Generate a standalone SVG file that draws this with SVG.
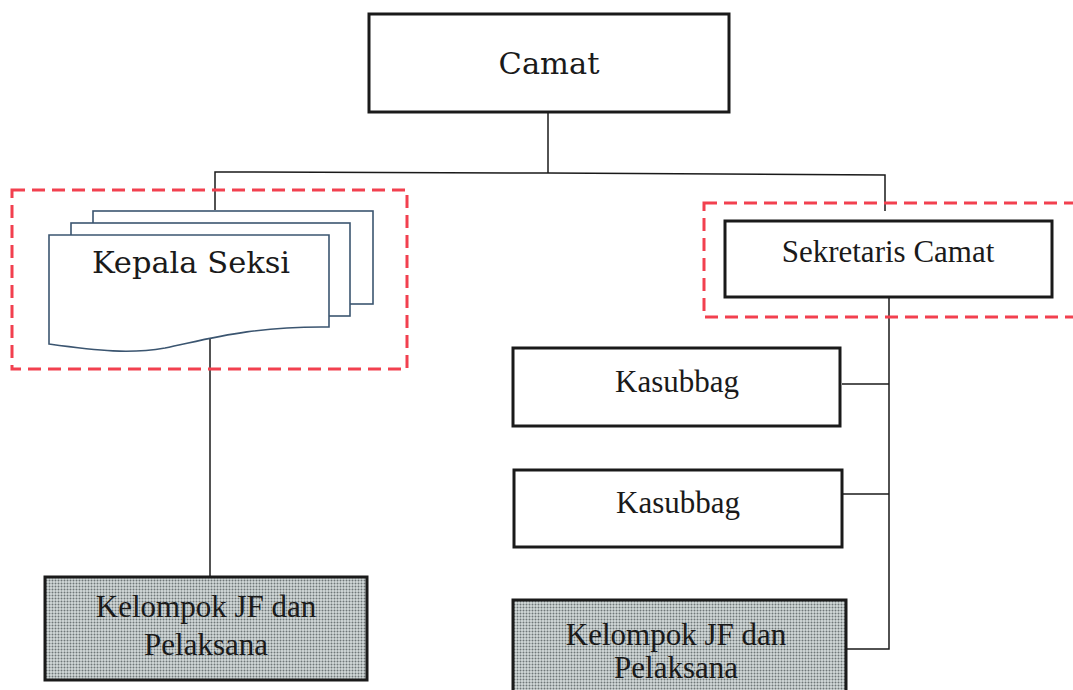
<svg xmlns="http://www.w3.org/2000/svg" width="1073" height="690" viewBox="0 0 1073 690">
<style>
.box{fill:#fff;stroke:#1a1a1a;stroke-width:3}
.shade{fill:url(#halftone);stroke:#1a1a1a;stroke-width:3}
.doc{fill:#fff;stroke:#3b5570;stroke-width:1.6}
.dash{fill:none;stroke:#f2404f;stroke-width:3;stroke-dasharray:13 7}
.conn{fill:none;stroke:#1a1a1a;stroke-width:1.5}
.t{font-family:"Liberation Serif","Times New Roman",serif;font-size:31px;fill:#1a1a1a;text-anchor:middle}
.tc{font-family:"DejaVu Serif",serif;font-size:30.5px;fill:#1a1a1a;text-anchor:middle}
</style>
<defs>
<pattern id="halftone" width="3" height="3" patternUnits="userSpaceOnUse">
<rect width="3" height="3" fill="#d3dada"/>
<circle cx="1.5" cy="1.5" r="1" fill="#6f7778"/>
</pattern>
</defs>
<rect width="1073" height="690" fill="#fff"/>
<g id="connectors">
<polyline class="conn" points="548,112 548,173"/>
<polyline class="conn" points="215,210 215,172 548,173 885,175 885,211"/>
<polyline class="conn" points="210,336 210,577"/>
<polyline class="conn" points="889,297 889,649 846,649"/>
<line class="conn" x1="842" y1="384" x2="889" y2="384"/>
<line class="conn" x1="843" y1="494" x2="889" y2="494"/>
</g>
<g id="group-left">
<rect class="dash" x="12" y="190" width="395" height="179"/>
</g>
<g id="group-right">
<rect class="dash" x="704" y="203" width="380" height="114"/>
</g>
<g id="camat">
<rect class="box" x="369" y="14" width="360" height="98"/>
<text class="tc" x="549" y="74">Camat</text>
</g>
<g id="kepala-seksi">
<rect class="doc" x="93" y="211" width="280" height="93"/>
<rect class="doc" x="71" y="223" width="279" height="93"/>
<path class="doc" d="M49,235 H329 V327 C250,326 205,340 165,348 C130,354 100,351 49,344 Z"/>
<text class="tc" x="191" y="273">Kepala Seksi</text>
</g>
<g id="kelompok-left">
<rect class="shade" x="45" y="577" width="322" height="103"/>
<text class="t" x="206" y="617">Kelompok JF dan</text>
<text class="t" x="206" y="655">Pelaksana</text>
</g>
<g id="sekretaris">
<rect class="box" x="725" y="221" width="327" height="76"/>
<text class="t" x="888" y="262">Sekretaris Camat</text>
</g>
<g id="kasubbag-1">
<rect class="box" x="513" y="348" width="327" height="78"/>
<text class="t" x="677" y="392">Kasubbag</text>
</g>
<g id="kasubbag-2">
<rect class="box" x="514" y="470" width="328" height="77"/>
<text class="t" x="678" y="513">Kasubbag</text>
</g>
<g id="kelompok-right">
<rect class="shade" x="513" y="600" width="333" height="100"/>
<text class="t" x="676" y="645">Kelompok JF dan</text>
<text class="t" x="676" y="678">Pelaksana</text>
</g>
</svg>
